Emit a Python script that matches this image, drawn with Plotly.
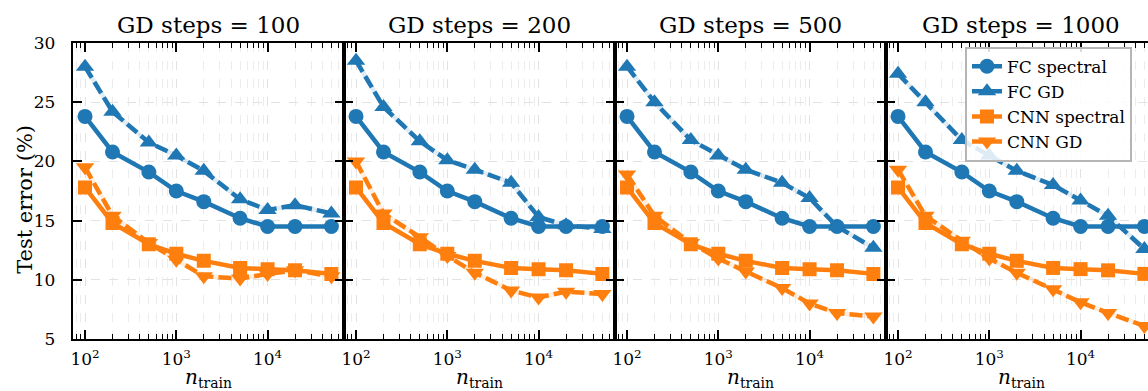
import plotly.graph_objects as go

# ---------------- data ----------------
n_train = [100, 200, 500, 1000, 2000, 5000, 10000, 20000, 50000]
gd_steps = [100, 200, 500, 1000]

fc_spectral = [23.8, 20.8, 19.1, 17.5, 16.6, 15.2, 14.5, 14.5, 14.5]
cnn_spectral = [17.8, 14.8, 13.0, 12.2, 11.6, 11.0, 10.9, 10.8, 10.5]

fc_gd_100 = [28.0, 24.2, 21.6, 20.5, 19.2, 16.8, 15.9, 16.3, 15.6]
fc_gd_200 = [28.5, 24.6, 21.7, 20.1, 19.3, 18.2, 15.3, 14.6, 14.3]
fc_gd_500 = [28.0, 25.0, 21.8, 20.5, 19.3, 18.2, 16.9, 14.5, 12.7]
fc_gd_1000 = [27.4, 25.0, 21.8, 20.5, 19.2, 18.0, 16.7, 15.4, 12.6]

cnn_gd_100 = [19.5, 15.4, 13.1, 11.7, 10.3, 10.1, 10.5, 10.8, 10.3]
cnn_gd_200 = [20.0, 15.6, 13.6, 12.0, 10.6, 9.1, 8.5, 9.0, 8.8]
cnn_gd_500 = [18.9, 15.4, 13.1, 11.8, 10.7, 9.3, 8.0, 7.2, 6.9]
cnn_gd_1000 = [19.3, 15.4, 13.3, 11.8, 10.6, 9.2, 8.1, 7.2, 6.1]

fc_gd = [fc_gd_100, fc_gd_200, fc_gd_500, fc_gd_1000]
cnn_gd = [cnn_gd_100, cnn_gd_200, cnn_gd_500, cnn_gd_1000]

x_tickvals = [100, 1000, 10000]
x_ticktext = ["10<sup>2</sup>", "10<sup>3</sup>", "10<sup>4</sup>"]
y_tickvals = [5, 10, 15, 20, 25, 30]

# ---------------- style / layout ----------------
W_PX, H_PX = 1148, 391
L0, PW = 72.7, 271.0
TOP, BOT = 43.3, 339.0
XR = [1.865, 4.834]
YR = [5, 30]
FONT = "DejaVu Serif"
BLUE = "#1f77b4"
ORANGE = "#ff7f0e"
BLUE_L = "rgba(31,119,180,0.14)"
ORANGE_L = "rgba(255,127,14,0.14)"
LW = 4.5
DASH = "13px,5px"

minor_vals = [m * 10 ** k for k in range(1, 5) for m in range(2, 10)]

fig = go.Figure()

for i, steps in enumerate(gd_steps):
    sfx = "" if i == 0 else str(i + 1)
    xa, ya = "x" + sfx, "y" + sfx
    show = i == 3

    def add(y, color, symbol, size, dash, name, legend):
        fig.add_trace(go.Scatter(
            x=n_train, y=y, xaxis=xa, yaxis=ya, mode="lines+markers",
            line=dict(color=color, width=LW, dash=dash),
            marker=dict(symbol=symbol, size=size, color=color),
            name=name, legendgroup=name, showlegend=legend))

    def under(y, color):
        fig.add_trace(go.Scatter(
            x=n_train, y=y, xaxis=xa, yaxis=ya, mode="lines",
            line=dict(color=color, width=LW), showlegend=False, hoverinfo="skip"))

    add(fc_spectral, BLUE, "circle", 15, "solid", "FC spectral", show)
    under(fc_gd[i], BLUE_L)
    add(fc_gd[i], BLUE, "triangle-up", 16, DASH, "FC GD", show)
    add(cnn_spectral, ORANGE, "square", 14, "solid", "CNN spectral", show)
    under(cnn_gd[i], ORANGE_L)
    add(cnn_gd[i], ORANGE, "triangle-down", 16, DASH, "CNN GD", show)

    x0 = L0 + i * PW
    x1 = min(x0 + PW, W_PX)
    xr_end = XR[0] + (x1 - x0) / PW * (XR[1] - XR[0])

    fig.update_layout(**{
        "xaxis" + sfx: dict(
            type="log", domain=[x0 / W_PX, x1 / W_PX], range=[XR[0], xr_end],
            anchor=ya, tickvals=x_tickvals, ticktext=x_ticktext,
            ticks="inside", ticklen=9, tickwidth=1.8, tickcolor="black",
            showline=True, linecolor="black", linewidth=2, mirror="allticks",
            showgrid=True, gridcolor="#e2e2e2", griddash="dash", gridwidth=1,
            zeroline=False, ticklabelstandoff=4,
            tickfont=dict(family=FONT, size=17, color="black"),
            minor=dict(tickvals=minor_vals, ticks="inside", ticklen=5,
                       tickwidth=1.2, tickcolor="black", showgrid=True,
                       gridcolor="#ececec", griddash="dash", gridwidth=1),
        ),
        "yaxis" + sfx: dict(
            domain=[0, 1], range=YR, anchor=xa, tickvals=y_tickvals,
            showticklabels=(i == 0),
            ticks="inside", ticklen=9, tickwidth=1.8, tickcolor="black",
            showline=True, linecolor="black", linewidth=2,
            mirror=("allticks" if i < 3 else False),
            showgrid=True, gridcolor="#e2e2e2", griddash="dash", gridwidth=1,
            zeroline=False, ticklabelstandoff=12,
            tickfont=dict(family=FONT, size=17, color="black"),
        ),
    })

    fig.add_annotation(
        text=f"GD steps = {steps}", xref="paper", yref="paper",
        x=(x0 + PW / 2) / W_PX, y=1, xanchor="center", yanchor="bottom", yshift=3,
        showarrow=False, font=dict(family=FONT, size=23, color="black"))
    fig.add_annotation(
        text="<i>n</i><sub>train</sub>", xref="paper", yref="paper",
        x=(x0 + PW / 2) / W_PX, y=-(393 - BOT) / (BOT - TOP),
        xanchor="center", yanchor="bottom",
        showarrow=False, font=dict(family=FONT, size=20, color="black"))

fig.add_annotation(
    text="Test error (%)", xref="paper", yref="paper", textangle=-90,
    x=25 / W_PX, y=1 - (200 - TOP) / (BOT - TOP), xanchor="center", yanchor="middle",
    showarrow=False, font=dict(family=FONT, size=21, color="black"))

fig.update_layout(
    width=W_PX, height=H_PX,
    margin=dict(l=0, r=0, t=TOP, b=H_PX - BOT, autoexpand=False),
    paper_bgcolor="white", plot_bgcolor="white",
    font=dict(family=FONT, color="black"),
    legend=dict(
        x=965 / W_PX, y=1 - (47 - TOP) / (BOT - TOP), xanchor="left", yanchor="top",
        bgcolor="rgba(255,255,255,0.85)", bordercolor="#b5b5b5", borderwidth=2,
        font=dict(family=FONT, size=17, color="black"), tracegroupgap=0,
    ),
)

fig.write_html("out.html")
